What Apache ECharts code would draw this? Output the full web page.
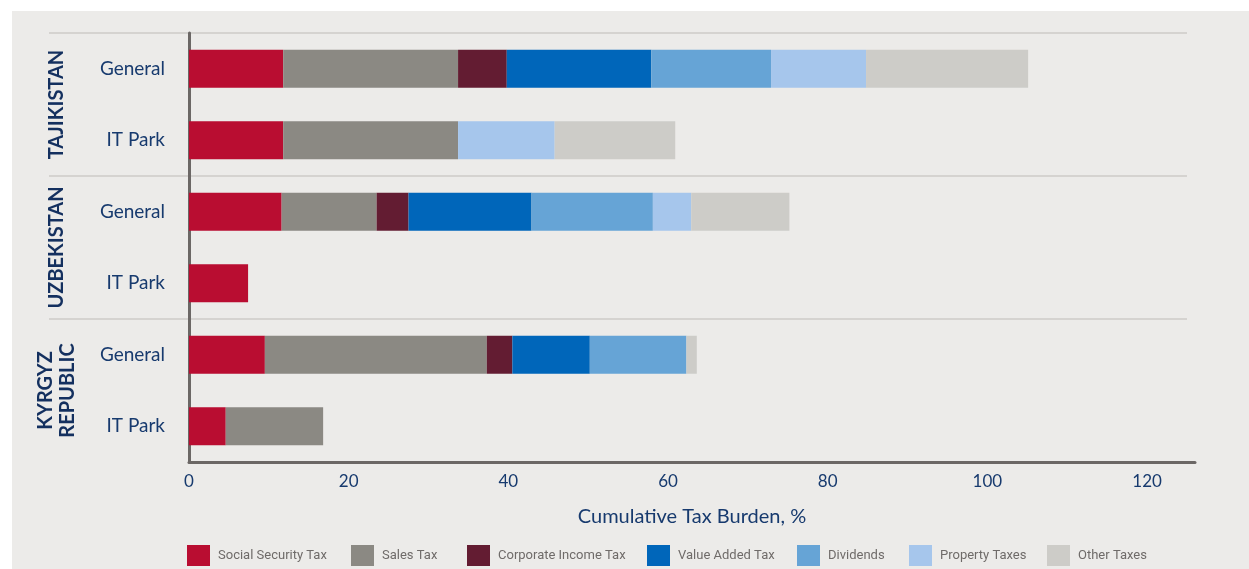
<!DOCTYPE html>
<html>
<head>
<meta charset="utf-8">
<script src="https://cdn.jsdelivr.net/npm/echarts@6/dist/echarts.min.js"></script>
<style>
  html, body { margin: 0; padding: 0; background: #ffffff; }
  #chart { width: 1249px; height: 569px; }
</style>
</head>
<body>
<div id="chart"></div>
<script>
// Country groups (two rows each) and the row labels inside each group
const groups = ['TAJIKISTAN', 'UZBEKISTAN', 'KYRGYZ\nREPUBLIC'];
const categories = [
  'Tajikistan|General', 'Tajikistan|IT Park',
  'Uzbekistan|General', 'Uzbekistan|IT Park',
  'Kyrgyz Republic|General', 'Kyrgyz Republic|IT Park'
];
const xTicks = [0, 20, 40, 60, 80, 100, 120];

// Tax burden components, % (one value per row above)
const socialSecurity = [11.8, 11.8, 11.6, 7.4, 9.5, 4.6];
const salesTax       = [21.9, 21.9, 11.9, 0, 27.8, 12.2];
const corporateTax   = [6.1, 0, 4.0, 0, 3.2, 0];
const valueAddedTax  = [18.1, 0, 15.4, 0, 9.7, 0];
const dividends      = [15.0, 0, 15.2, 0, 12.1, 0];
const propertyTaxes  = [11.9, 12.1, 4.8, 0, 0, 0];
const otherTaxes     = [20.3, 15.1, 12.3, 0, 1.3, 0];

const seriesDefs = [
  { name: 'Social Security Tax', data: socialSecurity, color: '#B90D31' },
  { name: 'Sales Tax',           data: salesTax,       color: '#8B8983' },
  { name: 'Corporate Income Tax',data: corporateTax,   color: '#631C32' },
  { name: 'Value Added Tax',     data: valueAddedTax,  color: '#0066BA' },
  { name: 'Dividends',           data: dividends,      color: '#66A4D6' },
  { name: 'Property Taxes',      data: propertyTaxes,  color: '#A6C6EC' },
  { name: 'Other Taxes',         data: otherTaxes,     color: '#CDCCC8' }
];
const legendLefts = [187, 351, 467, 647, 797, 909, 1047];

const NAVY = '#173A6E';
const AXIS = '#6B6765';
const SEP = '#D5D3D0';

const chart = echarts.init(document.getElementById('chart'), null, { renderer: 'canvas' });

const option = {
  backgroundColor: '#ffffff',
  animation: false,
  grid: { left: 189, right: 54, top: 33, bottom: 107, containLabel: false },
  xAxis: {
    type: 'value',
    min: 0,
    max: 126,
    interval: 20,
    name: 'Cumulative Tax Burden, %',
    nameLocation: 'middle',
    nameGap: 45,
    nameTextStyle: { color: NAVY, fontFamily: 'Lato', fontSize: 20 },
    axisLine: { show: true, lineStyle: { color: AXIS, width: 3 } },
    axisTick: { show: false },
    splitLine: { show: false },
    axisLabel: {
      color: NAVY, fontFamily: 'Lato', fontSize: 17, margin: 11,
      showMaxLabel: false,
      formatter: v => (xTicks.indexOf(v) >= 0 ? String(v) : '')
    }
  },
  yAxis: {
    type: 'category',
    inverse: true,
    data: categories,
    axisLine: { show: true, lineStyle: { color: AXIS, width: 3 } },
    axisTick: { show: false },
    splitLine: { show: false },
    axisLabel: {
      color: NAVY, fontFamily: 'Lato', fontSize: 19, margin: 24,
      formatter: v => v.split('|')[1]
    }
  },
  legend: seriesDefs.map((s, i) => ({
    data: [s.name],
    left: legendLefts[i],
    top: 545,
    padding: 0,
    icon: 'rect',
    itemWidth: 23,
    itemHeight: 21,
    selectedMode: false,
    textStyle: {
      color: '#6F6B69',
      fontFamily: 'Roboto',
      fontSize: 13,
      padding: [0, 0, 0, 3]
    }
  })),
  series: seriesDefs.map(s => ({
    name: s.name,
    type: 'bar',
    stack: 'total',
    barWidth: 38,
    data: s.data,
    itemStyle: { color: s.color },
    emphasis: { disabled: true }
  }))
};

chart.setOption(option);

// Decorations: panel background, group separators and rotated country names
const yc = i => chart.convertToPixel({ yAxisIndex: 0 }, i);
const rowStep = yc(1) - yc(0);
const plotTop = yc(0) - rowStep / 2;
const graphics = [
  { type: 'rect', z: -10, silent: true,
    shape: { x: 12, y: 11, width: 1237, height: 558 },
    style: { fill: '#ECEBE9' } }
];
[0, 2, 4].forEach(k => {
  const y = plotTop + k * rowStep;
  graphics.push({ type: 'line', z: -5, silent: true,
    shape: { x1: 49, y1: y, x2: 1187, y2: y },
    style: { stroke: SEP, lineWidth: 2 } });
});
groups.forEach((g, k) => {
  const y = (yc(2 * k) + yc(2 * k + 1)) / 2;
  graphics.push({ type: 'text', silent: true,
    x: 57, y: y, rotation: Math.PI / 2,
    style: { text: g, align: 'center', verticalAlign: 'middle',
      fill: '#14305F', fontFamily: 'Lato', fontWeight: 'bold',
      fontSize: 20, lineHeight: 22 } });
});
chart.setOption({ graphic: graphics });
</script>
</body>
</html>
